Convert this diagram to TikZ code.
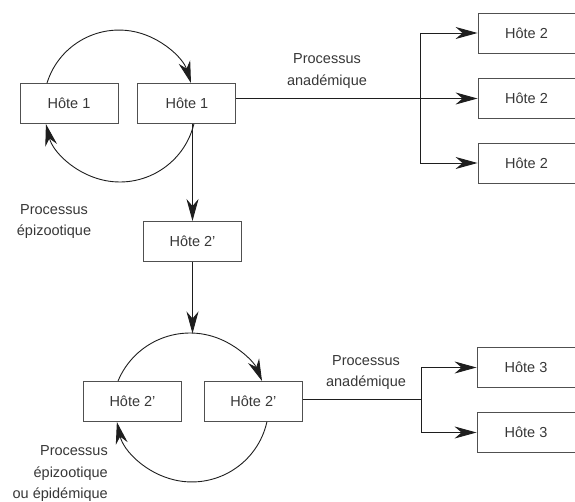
\documentclass[tikz,border=0pt]{standalone}
\usepackage{fontspec}
\setmainfont{Liberation Sans}
\usetikzlibrary{arrows.meta,positioning}
\definecolor{HostGray}{RGB}{80,80,80}
\definecolor{LineDark}{RGB}{30,30,30}
\definecolor{TextGray}{RGB}{55,55,55}

\begin{document}
\begin{tikzpicture}[x=1pt,y=1pt,
    box/.style={draw=HostGray,line width=0.9pt,text=TextGray,
                font=\fontsize{14.5}{21}\selectfont,inner sep=0pt,
                minimum width=98pt,minimum height=40pt},
    arr/.style={-{Stealth[length=22pt,width=12pt,inset=7pt]},LineDark,line width=0.9pt},
    ln/.style={LineDark,line width=0.9pt},
    note/.style={font=\fontsize{14.5}{21.5}\selectfont,text=TextGray,align=center,inner sep=0pt}
  ]
  \useasboundingbox (0,0) rectangle (575,501);
  % epizootic loop, host 1
  \node[box] (H1a) at (69,397.5) {Hôte 1};
  \node[box,right=19pt of H1a] (H1b) {Hôte 1};
  \draw[arr] ([xshift=-22pt]H1a.north) arc[start angle=162.7,end angle=17.3,radius=75.4];
  \draw[arr] ([xshift=7pt]H1b.south) arc[start angle=-13.8,end angle=-166.2,radius=76.2];
  \node[note] (epiA) at (54,279.5) {Processus\\épizootique};
  % anademic spread to host 2
  \node[box,minimum width=97pt] (H2top) at (526.5,468) {Hôte 2};
  \node[box,minimum width=97pt] (H2mid) at (526.5,402.5) {Hôte 2};
  \node[box,minimum width=97pt] (H2bot) at (526.5,338) {Hôte 2};
  \coordinate (fork1) at (420,402.5);
  \draw[arr] (H1b.east |- H2mid.west) -- (H2mid.west);
  \draw[ln] (fork1 |- H2top.west) -- (fork1 |- H2bot.west);
  \draw[arr] (fork1 |- H2top.west) -- (H2top.west);
  \draw[arr] (fork1 |- H2bot.west) -- (H2bot.west);
  \node[note] (anadA) at (327,430) {Processus\\anadémique};
  % passage to host 2'
  \node[box] (H2) at (192.5,259.5) {Hôte 2’};
  \draw[arr] (H1b.south -| H2.north) -- (H2.north);
  % loop, host 2'
  \node[box] (H2a) at (132.5,99.5) {Hôte 2’};
  \node[box,right=22pt of H2a] (H2b) {Hôte 2’};
  \coordinate (loop2) at (190,167.5);
  \draw[arr] (H2.south) -- (H2.south |- loop2);
  \draw[arr] ([xshift=-14.5pt]H2a.north) arc[start angle=157.4,end angle=22.6,radius=78];
  \draw[arr] ([xshift=13.5pt]H2b.south) arc[start angle=-12.7,end angle=-167.3,radius=76.9];
  \node[note,align=right,anchor=east] (epiB) at (108,27) {Processus\\épizootique\\ou épidémique};
  % anademic spread to host 3
  \node[box] (H3top) at (526,133.5) {Hôte 3};
  \node[box] (H3bot) at (526,68.5) {Hôte 3};
  \coordinate (fork2) at (421,102);
  \draw[ln] (H2b.east |- fork2) -- (fork2);
  \draw[ln] (fork2 |- H3top.west) -- (fork2 |- H3bot.west);
  \draw[arr] (fork2 |- H3top.west) -- (H3top.west);
  \draw[arr] (fork2 |- H3bot.west) -- (H3bot.west);
  \node[note] (anadB) at (366,128.5) {Processus\\anadémique};
\end{tikzpicture}
\end{document}
